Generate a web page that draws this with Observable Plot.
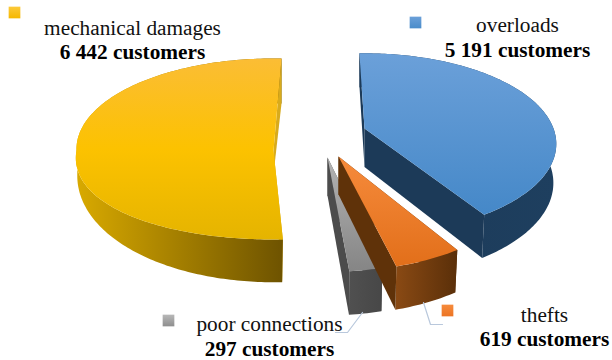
<!DOCTYPE html>
<html>
<head>
<meta charset="utf-8">
<script src="https://cdn.jsdelivr.net/npm/d3@7"></script>
<script src="https://cdn.jsdelivr.net/npm/@observablehq/plot@0.6"></script>
<style>
  html, body { margin: 0; padding: 0; background: #fff; }
  svg { display: block; }
</style>
</head>
<body>
<script>
// Customers affected per cause of failure
const causes = ["overloads", "thefts", "poor connections", "mechanical damages"];
const customers = [5191, 619, 297, 6442];
const customerLabels = ["5 191 customers", "619 customers", "297 customers", "6 442 customers"];

// Where each exploded slice sits: apex, radii, perspective and rotation (degrees)
const apexX = [364, 338, 327, 273];
const apexY = [128, 156, 157, 150];
const radiusX = [189, 189, 189, 197];
const radiusY = [88, 95, 95, 90.5];
const perspective = [0.17, 0.17, 0.17, -0.017];
const flare = [0, 0, 0, 0.1];
const rotation = [-1.8, -1.5, -0.7, 2.3];
const wallDepth = [39, 38.5, 38.5, 24];
const wallTaper = [0, 0, 0, 20];
const sink = [0.015, 0.015, 0.015, 0.004];

// Label and legend placement
const labelX = [517, 544, 269, 132];
const nameY = [31, 321, 330, 34];
const countY = [56, 345, 355, 58];
const keyX = [415, 447, 168, 14];
const keyY = [22, 310, 320, 12];

const total = d3.sum(customers);
const starts = d3.cumsum([0, ...customers]).map((v) => (v / total) * 360);

// Disc coordinates to page coordinates; h = 0 on the top rim, 1 on the bottom rim
function project(i, deg, r, h) {
  const a = (deg * Math.PI) / 180;
  const u = r * Math.sin(a);
  const v = -r * Math.cos(a);
  const w = 1 - perspective[i] * v + sink[i] * h;
  const wx = w - flare[i] * Math.max(v, 0) * (1 - 0.7 * h);
  const depth = wallDepth[i] + wallTaper[i] * Math.abs(v);
  return {x: apexX[i] + (radiusX[i] * u) / wx, y: apexY[i] + (radiusY[i] * v + depth * h) / w};
}

function arc(i, h, reverse) {
  const a0 = starts[i] + rotation[i];
  const a1 = starts[i + 1] + rotation[i];
  const n = Math.ceil(a1 - a0);
  const pts = d3.range(n + 1).map((k) => project(i, a0 + ((a1 - a0) * k) / n, 1, h));
  return reverse ? pts.reverse() : pts;
}

const topFace = (i) => [project(i, 0, 0, 0), ...arc(i, 0)];
const outerWall = (i) => [...arc(i, 0), ...arc(i, 1, true)];
const radialWall = (i, deg) => [project(i, deg, 0, 0), project(i, deg, 1, 0), project(i, deg, 1, 1), project(i, deg, 0, 1)];

const palette = [
  {top: ["#6ba0d9", "#4588c8"], wall: ["#1c3a58", "#1e3f5f"], side: "#1c3a58", key: ["#6ba0d9", "#4a8cca"]},
  {top: ["#f68b3c", "#e26f1a"], wall: ["#8a4a14", "#5a2f09"], side: "#5f3209", key: ["#f68b3c", "#ec7424"]},
  {top: ["#b4b4b4", "#858585"], wall: ["#505050", "#474747"], side: "#4c4c4c", key: ["#b8b8b8", "#8e8e8e"]},
  {top: ["#fbbd35", "#e5b400"], wall: ["#d9aa00", "#6e5300"], side: "#d8ab1c", key: ["#fcc93a", "#f5b800"]}
];

function gradient(id, stops, horizontal) {
  return `<linearGradient id="${id}" x1="0" y1="0" x2="${horizontal ? 1 : 0}" y2="${horizontal ? 0 : 1}">` +
    stops.map((c, k) => `<stop offset="${k / (stops.length - 1)}" stop-color="${c}"/>`).join("") +
    `</linearGradient>`;
}

const gradients = () => {
  const defs = document.createElementNS("http://www.w3.org/2000/svg", "defs");
  defs.innerHTML = palette.map((p, i) =>
    gradient(`top${i}`, i === 3 ? [p.top[0], "#fcc200", p.top[1]] : p.top) +
    gradient(`wall${i}`, p.wall, true) +
    gradient(`key${i}`, p.key)
  ).join("");
  return defs;
};

// Back slices first; each slice paints its far wall, rim, near wall, then the top face
const sliceMarks = [3, 2, 1, 0].flatMap((i) => {
  const a0 = starts[i] + rotation[i];
  const a1 = starts[i + 1] + rotation[i];
  const poly = (pts, fill) => Plot.line(pts, {x: "x", y: "y", fill, stroke: "none", curve: "linear"});
  return [
    poly(radialWall(i, a0), palette[i].side),
    poly(outerWall(i), `url(#wall${i})`),
    poly(radialWall(i, a1), palette[i].side),
    poly(topFace(i), `url(#top${i})`)
  ];
});

// Leader lines from the two thin slices to their labels
const leaders = [
  [[362, 312], [347, 332], [335, 332]],
  [[423, 302], [430, 324], [442, 324]]
];

const rows = causes.map((name, i) => ({name, count: customerLabels[i], x: labelX[i], ny: nameY[i], cy: countY[i], kx: keyX[i], ky: keyY[i], i}));
const font = "'Liberation Serif', 'Times New Roman', serif";

const chart = Plot.plot({
  width: 612,
  height: 360,
  margin: 0,
  style: {background: "#fff"},
  x: {domain: [0, 612], range: [0, 612], axis: null},
  y: {domain: [0, 360], range: [0, 360], axis: null},
  marks: [
    gradients,
    ...sliceMarks,
    ...leaders.map((l) => Plot.line(l, {x: "0", y: "1", stroke: "#b9c8dc", strokeWidth: 1.2})),
    ...rows.map((r) => Plot.dot([r], {x: "kx", y: "ky", symbol: "square", r: 6.6, fill: `url(#key${r.i})`, stroke: "none"})),
    Plot.text(rows, {x: "x", y: "ny", text: "name", fontFamily: font, fontSize: 21.3, fill: "#111", lineAnchor: "bottom", textAnchor: "middle"}),
    Plot.text(rows, {x: "x", y: "cy", text: "count", fontFamily: font, fontSize: 21.3, fontWeight: "bold", fill: "#000", lineAnchor: "bottom", textAnchor: "middle"})
  ]
});
document.body.appendChild(chart);
</script>
</body>
</html>
